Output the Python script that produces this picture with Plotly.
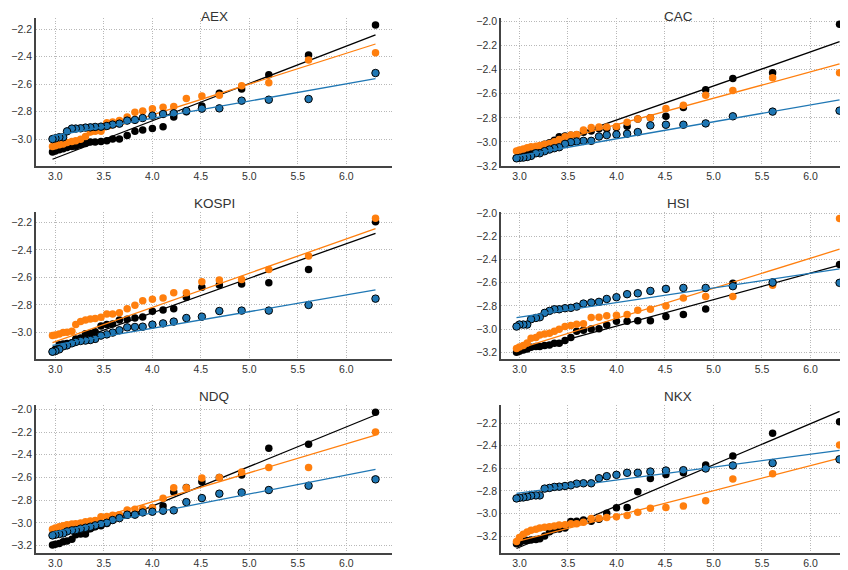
import plotly.graph_objects as go

# log-quantile axis shared by all six panels
x_q = [6.30, 5.61, 5.20, 4.92, 4.69, 4.51, 4.35, 4.22, 4.11, 4.00, 3.90, 3.82, 3.74, 3.66,
       3.59, 3.53, 3.47, 3.41, 3.36, 3.31, 3.26, 3.21, 3.17, 3.12, 3.08, 3.04, 3.00, 2.97]
fit_x = [2.97, 6.30]

# AEX
aex_black = [-2.168, -2.387, -2.53, -2.634, -2.665, -2.758, -2.80, -2.838, -2.908, -2.922, -2.932, -2.942, -2.973, -2.998,
             -2.998, -3.01, -3.015, -3.02, -3.02, -3.03, -3.04, -3.05, -3.053, -3.06, -3.068, -3.075, -3.085, -3.092]
aex_orange = [-2.37, -2.423, -2.588, -2.61, -2.68, -2.685, -2.704, -2.762, -2.767, -2.777, -2.794, -2.804, -2.838, -2.864,
              -2.874, -2.879, -2.942, -2.942, -2.947, -2.98, -3.0, -3.01, -3.015, -3.024, -3.034, -3.039, -3.046, -3.053]
aex_blue = [-2.518, -2.707, -2.712, -2.719, -2.775, -2.777, -2.794, -2.811, -2.816, -2.828, -2.845, -2.859, -2.864, -2.886,
            -2.893, -2.903, -2.908, -2.91, -2.913, -2.915, -2.92, -2.922, -2.922, -2.942, -2.985, -2.985, -2.993, -2.998]
aex_fits = [[-3.145, -2.241], [-3.053, -2.307], [-2.976, -2.559]]

# CAC
cac_black = [-2.022, -2.424, -2.472, -2.567, -2.714, -2.787, -2.80, -2.81, -2.869, -2.88, -2.89, -2.89, -2.91, -2.92,
             -2.94, -2.945, -2.95, -2.957, -2.985, -3.007, -3.02, -3.04, -3.07, -3.097, -3.11, -3.12, -3.125, -3.133]
cac_orange = [-2.424, -2.466, -2.572, -2.611, -2.695, -2.723, -2.798, -2.809, -2.837, -2.871, -2.876, -2.876, -2.879, -2.901,
              -2.938, -2.943, -2.957, -2.98, -2.999, -3.013, -3.019, -3.03, -3.035, -3.041, -3.049, -3.058, -3.066, -3.075]
cac_blue = [-2.74, -2.748, -2.787, -2.846, -2.857, -2.857, -2.862, -2.918, -2.932, -2.938, -2.943, -2.955, -2.991, -2.991,
            -2.996, -3.002, -3.016, -3.044, -3.052, -3.063, -3.077, -3.094, -3.094, -3.116, -3.125, -3.13, -3.133, -3.136]
cac_fits = [[-3.11, -2.167], [-3.083, -2.352], [-3.119, -2.65]]

# KOSPI
kospi_black = [-2.195, -2.544, -2.639, -2.648, -2.656, -2.673, -2.745, -2.828, -2.838, -2.847, -2.888, -2.896, -2.905, -2.91,
               -2.939, -2.944, -2.954, -2.995, -3.007, -3.01, -3.041, -3.048, -3.075, -3.082, -3.085, -3.09, -3.124, -3.141]
kospi_orange = [-2.171, -2.445, -2.544, -2.615, -2.619, -2.632, -2.712, -2.712, -2.75, -2.76, -2.77, -2.804, -2.828, -2.857,
                -2.867, -2.867, -2.891, -2.90, -2.903, -2.91, -2.922, -2.944, -2.993, -3.0, -3.002, -3.012, -3.019, -3.024]
kospi_blue = [-2.755, -2.801, -2.842, -2.842, -2.845, -2.886, -2.896, -2.922, -2.935, -2.944, -2.959, -2.961, -2.964, -2.985,
              -3.002, -3.015, -3.024, -3.048, -3.056, -3.06, -3.063, -3.07, -3.08, -3.095, -3.102, -3.124, -3.136, -3.141]
kospi_fits = [[-3.116, -2.28], [-3.075, -2.246], [-3.095, -2.692]]

# HSI
hsi_black = [-2.443, -2.593, -2.604, -2.826, -2.875, -2.892, -2.929, -2.929, -2.932, -2.932, -2.964, -2.996, -2.999, -3.01,
             -3.019, -3.073, -3.099, -3.122, -3.122, -3.137, -3.142, -3.151, -3.151, -3.157, -3.171, -3.18, -3.191, -3.2]
hsi_orange = [-2.046, -2.622, -2.719, -2.719, -2.731, -2.80, -2.829, -2.837, -2.875, -2.881, -2.886, -2.898, -2.901, -2.953,
              -2.958, -2.97, -2.978, -3.001, -3.019, -3.036, -3.042, -3.05, -3.073, -3.079, -3.12, -3.142, -3.154, -3.168]
hsi_blue = [-2.601, -2.599, -2.63, -2.645, -2.645, -2.653, -2.671, -2.691, -2.699, -2.725, -2.74, -2.765, -2.771, -2.78,
            -2.806, -2.817, -2.82, -2.829, -2.829, -2.843, -2.86, -2.898, -2.904, -2.915, -2.961, -2.961, -2.961, -2.978]
hsi_fits = [[-3.209, -2.449], [-3.174, -2.311], [-2.901, -2.481]]

# NDQ
ndq_black = [-2.026, -2.308, -2.343, -2.578, -2.599, -2.637, -2.687, -2.728, -2.851, -2.869, -2.889, -2.918, -2.933, -2.945,
             -2.974, -3.004, -3.024, -3.033, -3.05, -3.097, -3.097, -3.103, -3.144, -3.159, -3.165, -3.18, -3.188, -3.194]
ndq_orange = [-2.2, -2.511, -2.511, -2.552, -2.599, -2.605, -2.69, -2.69, -2.783, -2.866, -2.874, -2.88, -2.886, -2.927,
              -2.933, -2.942, -2.945, -2.977, -2.983, -2.989, -3.001, -3.006, -3.009, -3.015, -3.024, -3.033, -3.045, -3.056]
ndq_blue = [-2.616, -2.672, -2.71, -2.731, -2.742, -2.781, -2.816, -2.889, -2.892, -2.901, -2.907, -2.927, -2.927, -2.957,
            -2.974, -2.998, -3.009, -3.021, -3.033, -3.042, -3.05, -3.062, -3.065, -3.074, -3.092, -3.097, -3.103, -3.109]
ndq_fits = [[-3.21, -2.05], [-3.077, -2.226], [-3.083, -2.528]]

# NKX
nkx_black = [-2.188, -2.289, -2.492, -2.572, -2.64, -2.655, -2.691, -2.807, -2.947, -2.95, -2.998, -3.051, -3.069, -3.057,
             -3.069, -3.072, -3.129, -3.138, -3.143, -3.161, -3.2, -3.224, -3.23, -3.236, -3.239, -3.242, -3.26, -3.268]
nkx_orange = [-2.393, -2.649, -2.694, -2.888, -2.935, -2.947, -2.953, -2.989, -3.018, -3.03, -3.036, -3.042, -3.045, -3.078,
              -3.09, -3.09, -3.099, -3.102, -3.111, -3.117, -3.123, -3.129, -3.14, -3.149, -3.164, -3.185, -3.212, -3.248]
nkx_blue = [-2.521, -2.554, -2.575, -2.602, -2.617, -2.62, -2.629, -2.64, -2.64, -2.658, -2.67, -2.688, -2.733, -2.733,
            -2.736, -2.751, -2.757, -2.763, -2.765, -2.774, -2.78, -2.84, -2.84, -2.843, -2.852, -2.858, -2.861, -2.867]
nkx_fits = [[-3.31, -2.096], [-3.25, -2.51], [-2.822, -2.441]]

panels = [
    ("AEX", [aex_black, aex_orange, aex_blue], aex_fits, [-3.194, -2.118]),
    ("CAC", [cac_black, cac_orange, cac_blue], cac_fits, [-3.20, -1.97]),
    ("KOSPI", [kospi_black, kospi_orange, kospi_blue], kospi_fits, [-3.194, -2.125]),
    ("HSI", [hsi_black, hsi_orange, hsi_blue], hsi_fits, [-3.258, -1.99]),
    ("NDQ", [ndq_black, ndq_orange, ndq_blue], ndq_fits, [-3.264, -1.962]),
    ("NKX", [nkx_black, nkx_orange, nkx_blue], nkx_fits, [-3.35, -2.04]),
]

colors = ["black", "#ff7f0e", "#1f77b4"]
W, H = 848, 570
OFF = 8  # page body margin shifts the figure by 8px
col_px = [(36, 392), (501, 848)]
row_px = [(18, 166), (212, 359), (405, 553)]
x_ranges = [[2.80, 6.47], [2.81, 6.387]]
font = "Liberation Sans, Arial, sans-serif"

fig = go.Figure()
for i, (name, series, fits, yr) in enumerate(panels):
    r, c = i // 2, i % 2
    n = "" if i == 0 else str(i + 1)
    for ys, fy, col in zip(series, fits, colors):
        fig.add_trace(go.Scatter(
            x=x_q, y=ys, mode="markers", xaxis="x" + n, yaxis="y" + n,
            marker=dict(size=7.5, color=col,
                        line=dict(width=1 if col == "#1f77b4" else 0, color="black")),
            cliponaxis=False, showlegend=False))
        fig.add_trace(go.Scatter(
            x=fit_x, y=fy, mode="lines", xaxis="x" + n, yaxis="y" + n,
            line=dict(color=col, width=1.3), showlegend=False))

    x0, x1 = [p - OFF for p in col_px[c]]
    y0, y1 = [p - OFF for p in row_px[r]]
    common = dict(showgrid=True, gridcolor="#b8b8b8", griddash="1px,1.5px", gridwidth=1,
                  zeroline=False, showline=True, linecolor="#444", linewidth=1.6,
                  ticks="", automargin=False,
                  tickfont=dict(family=font, size=10.5, color="#333"),
                  tickformat=".1f")
    fig.update_layout(**{
        "xaxis" + n: dict(common, domain=[x0 / W, x1 / W], anchor="y" + n,
                          range=x_ranges[c], tick0=3.0, dtick=0.5),
        "yaxis" + n: dict(common, domain=[1 - y1 / H, 1 - y0 / H], anchor="x" + n,
                          range=yr, dtick=0.2),
    })
    title_x = (x0 + 855 - OFF) / 2 if c == 1 else (x0 + x1) / 2
    title_y = 1.0 if r == 0 else 1 - (y0 - 17) / H
    fig.add_annotation(text=name, x=title_x / W, y=title_y, xref="paper", yref="paper",
                       xanchor="center", yanchor="top", showarrow=False, borderpad=0,
                       font=dict(family=font, size=13.5, color="#333"))

fig.update_layout(width=W, height=H, margin=dict(l=0, r=0, t=0, b=0),
                  plot_bgcolor="white", paper_bgcolor="white")
fig.write_html("out.html")
